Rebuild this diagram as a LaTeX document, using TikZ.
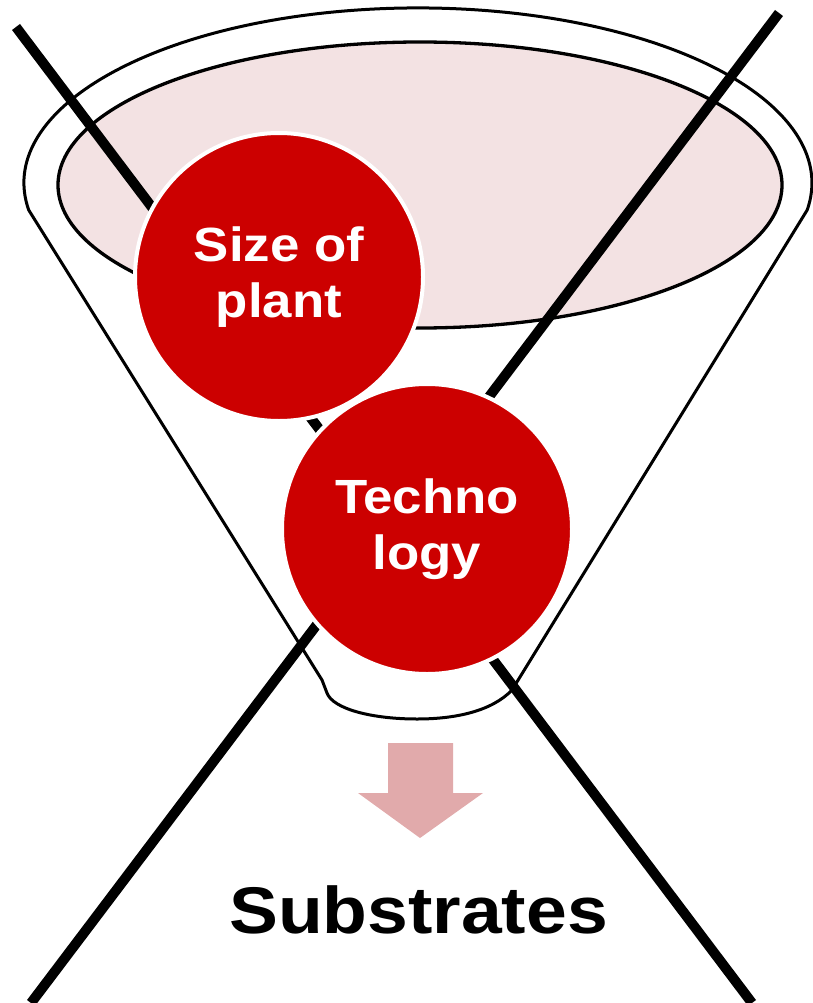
\documentclass[tikz,border=0pt]{standalone}
\usepackage{fontspec}
\setmainfont{Liberation Sans}
\definecolor{cuppink}{RGB}{243,226,227}
\definecolor{bubblered}{RGB}{204,0,0}
\definecolor{flowpink}{RGB}{225,170,171}
\tikzset{
  rim/.style={draw=black, line width=3pt, fill=white, line join=round},
  cup/.style={draw=black, line width=3.3pt, fill=cuppink},
  cross/.style={draw=black, line width=10pt},
  bubble/.style={circle, fill=bubblered, draw=white, line width=4pt, inner sep=0pt,
    text=white, align=center, font=\fontsize{48}{56}\selectfont\bfseries},
  flow/.style={fill=flowpink, draw=none},
  caption/.style={font=\fontsize{66}{70}\selectfont\bfseries, anchor=base, inner sep=0pt}
}
\begin{document}
\begin{tikzpicture}[x=1pt, y=1pt, yscale=-1]
\useasboundingbox (0,0) rectangle (812,1003);

% funnel body: top rim arc, straight sides, small spout at the bottom
\draw[rim] (28.7,210) arc[start angle=171.1, end angle=368.9, x radius=394, y radius=175]
  -- (512,690)
  .. controls (492,711) and (456,719) .. (417,719)
  .. controls (372,719) and (333,709) .. (327,693)
  -- (322,680) -- cycle;

% opening of the funnel
\draw[cup] (420,185) ellipse[x radius=362, y radius=143];

% the two crossing bars
\coordinate (xa1) at (16,27);
\coordinate (xa2) at (752,1003);
\coordinate (xb1) at (779,13);
\coordinate (xb2) at (31,1003);
\draw[cross] (xa1) -- (xa2);
\draw[cross] (xb1) -- (xb2);

% downward arrow out of the spout
\path[flow] (388,743) -- (453,743) -- (453,793) -- (483,793) -- (420,838)
  -- (358,793) -- (388,793) -- cycle;

% factors in the funnel
\node[bubble, minimum size=288pt] (size) at (279,277)
  {\scalebox{1.1}[1]{Size of}\\\scalebox{1.1}[1]{plant}};
\node[bubble, minimum size=290pt] (tech) at (427,529)
  {\scalebox{1.1}[1]{Techno}\\\scalebox{1.1}[1]{logy}};

% output
\node[caption] (out) at (418.5,933) {\scalebox{1.11}[1]{Substrates}};
\end{tikzpicture}
\end{document}
